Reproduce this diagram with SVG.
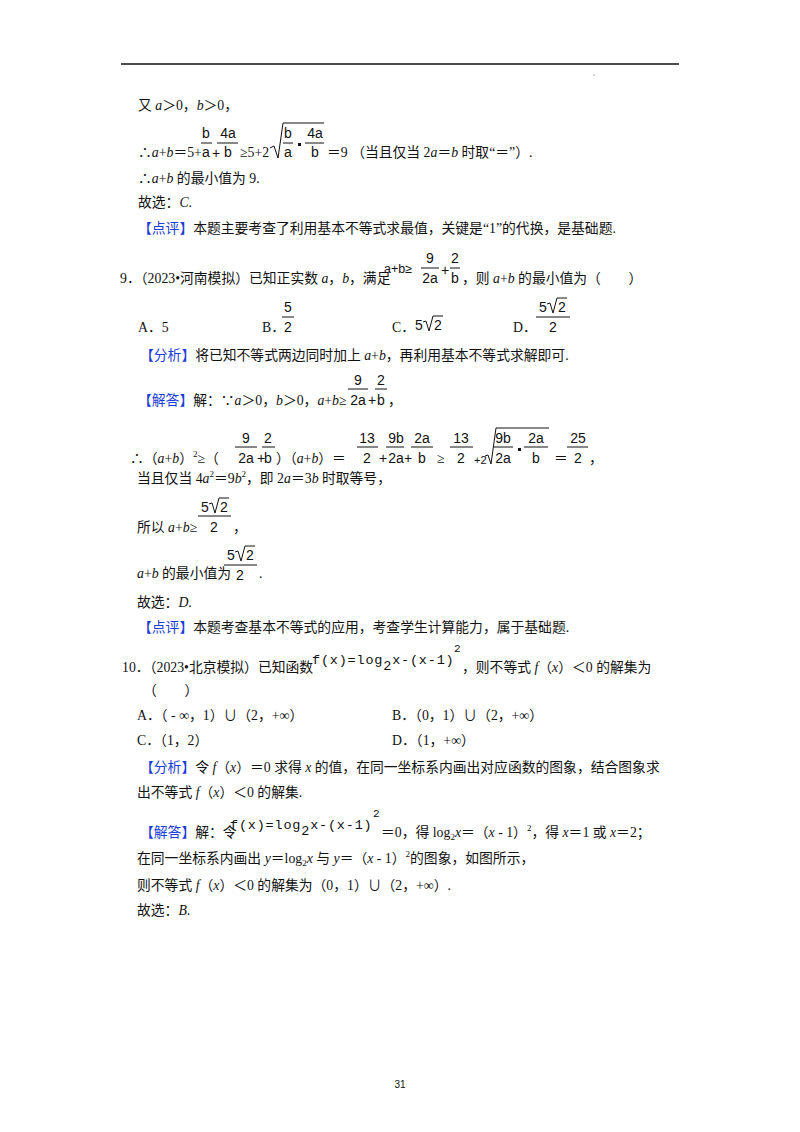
<svg xmlns="http://www.w3.org/2000/svg" width="800" height="1132" viewBox="0 0 800 1132">
<style>
text{font-family:"Liberation Serif","Noto Sans CJK SC",serif;font-size:13.8px;fill:#111}
.i{font-style:italic}
.b{fill:#1a3cd8}
.m{font-family:"Liberation Sans",sans-serif;font-size:14px}
.c{text-anchor:middle}
.f{font-family:"Liberation Mono",monospace;font-size:13.5px;letter-spacing:0.8px}
.sm{font-size:9px}
line,path{stroke:#111;stroke-width:1;fill:none}
</style>
<rect width="800" height="1132" fill="#fff"/>
<line x1="121" y1="64" x2="679" y2="64" style="stroke-width:1.5"/>
<circle cx="594" cy="75" r="0.6" fill="#555"/>

<!-- block 1 -->
<text x="138" y="110">又 <tspan class="i">a</tspan>＞0，<tspan class="i">b</tspan>＞0，</text>
<text x="138" y="157">∴<tspan class="i">a</tspan>+<tspan class="i">b</tspan>＝5+</text>
<text class="m c" x="206" y="138">b</text><line x1="201" y1="143" x2="212" y2="143"/><text class="m c" x="206" y="157">a</text>
<text class="m" x="212" y="158">+</text>
<text class="m c" x="228" y="138">4a</text><line x1="217" y1="143" x2="238" y2="143"/><text class="m c" x="228" y="157">b</text>
<text x="240" y="157">≥5+2</text>
<path d="M270,148 L274,146 L278,158 L283,123 L324,123"/>
<text class="m c" x="288" y="138">b</text><line x1="283" y1="143" x2="293" y2="143"/><text class="m c" x="288" y="157">a</text>
<rect x="298" y="143" width="3" height="3" fill="#111"/>
<text class="m c" x="315" y="138">4a</text><line x1="305" y1="143" x2="324" y2="143"/><text class="m c" x="315" y="157">b</text>
<text x="327" y="157">＝9 （当且仅当 2<tspan class="i">a</tspan>＝<tspan class="i">b</tspan> 时取“＝”）.</text>
<text x="138" y="183">∴<tspan class="i">a</tspan>+<tspan class="i">b</tspan> 的最小值为 9.</text>
<text x="138" y="207">故选：<tspan class="i">C</tspan>.</text>
<text x="138" y="233"><tspan class="b">【点评】</tspan>本题主要考查了利用基本不等式求最值，关键是“1”的代换，是基础题.</text>

<!-- question 9 -->
<text x="120" y="283">9．（2023•河南模拟）已知正实数 <tspan class="i">a</tspan>，<tspan class="i">b</tspan>，满足</text>
<text class="m" x="384" y="273" style="font-size:12.5px">a+b≥</text>
<text class="m c" x="430" y="263">9</text><line x1="421" y1="268" x2="439" y2="268"/><text class="m c" x="430" y="283">2a</text>
<text class="m" x="441" y="275">+</text>
<text class="m c" x="455" y="263">2</text><line x1="450" y1="268" x2="460" y2="268"/><text class="m c" x="455" y="283">b</text>
<text x="462" y="283">，则 <tspan class="i">a</tspan>+<tspan class="i">b</tspan> 的最小值为（　　）</text>
<text x="138" y="332">A．5</text>
<text x="262" y="332">B．</text>
<text class="m c" x="288" y="312">5</text><line x1="282" y1="317" x2="294" y2="317"/><text class="m c" x="288" y="332">2</text>
<text x="392" y="332">C．</text>
<text class="m" x="415" y="330">5</text><path d="M423,322 L426,321 L429,331 L433,316 L443,316"/><text class="m" x="434" y="330">2</text>
<text x="513" y="332">D．</text>
<text class="m" x="539" y="312">5</text><path d="M547,304 L550,303 L553,313 L557,298 L567,298"/><text class="m" x="558" y="312">2</text>
<line x1="536" y1="317" x2="570" y2="317"/><text class="m c" x="553" y="332">2</text>
<text x="140" y="360"><tspan class="b">【分析】</tspan>将已知不等式两边同时加上 <tspan class="i">a</tspan>+<tspan class="i">b</tspan>，再利用基本不等式求解即可.</text>
<text x="138" y="405"><tspan class="b">【解答】</tspan>解：∵<tspan class="i">a</tspan>＞0，<tspan class="i">b</tspan>＞0，<tspan class="i">a</tspan>+<tspan class="i">b</tspan>≥</text>
<text class="m c" x="358" y="385">9</text><line x1="348" y1="389" x2="368" y2="389"/><text class="m c" x="358" y="405">2a</text>
<text class="m" x="368" y="405">+</text>
<text class="m c" x="381" y="385">2</text><line x1="375" y1="389" x2="387" y2="389"/><text class="m c" x="381" y="405">b</text>
<text x="388" y="405">，</text>

<text x="130" y="463">∴（<tspan class="i">a</tspan>+<tspan class="i">b</tspan>）<tspan class="sm" dy="-6">2</tspan><tspan dy="6">≥（</tspan></text>
<text class="m c" x="246" y="443">9</text><line x1="235" y1="447" x2="257" y2="447"/><text class="m c" x="246" y="463">2a</text>
<text class="m" x="257" y="463">+</text>
<text class="m c" x="268" y="443">2</text><line x1="262" y1="447" x2="275" y2="447"/><text class="m c" x="268" y="463">b</text>
<text x="276" y="463">）（<tspan class="i">a</tspan>+<tspan class="i">b</tspan>）＝</text>
<text class="m c" x="367" y="443">13</text><line x1="357" y1="447" x2="378" y2="447"/><text class="m c" x="367" y="463">2</text>
<text class="m" x="379" y="463">+</text>
<text class="m c" x="396" y="443">9b</text><line x1="386" y1="447" x2="404" y2="447"/><text class="m c" x="396" y="463">2a</text>
<text class="m" x="404" y="463">+</text>
<text class="m c" x="422" y="443">2a</text><line x1="411" y1="447" x2="433" y2="447"/><text class="m c" x="422" y="463">b</text>
<text x="437" y="463">≥</text>
<text class="m c" x="461" y="443">13</text><line x1="450" y1="447" x2="473" y2="447"/><text class="m c" x="461" y="463">2</text>
<text class="m" x="474" y="464" style="font-size:11px">+2</text>
<path d="M485,456 L488,455 L491,464 L496,428 L549,428"/>
<text class="m c" x="503" y="443">9b</text><line x1="493" y1="447" x2="513" y2="447"/><text class="m c" x="503" y="463">2a</text>
<rect x="518" y="448" width="3" height="3" fill="#111"/>
<text class="m c" x="536" y="443">2a</text><line x1="524" y1="447" x2="548" y2="447"/><text class="m c" x="536" y="463">b</text>
<text x="554" y="463">＝</text>
<text class="m c" x="578" y="443">25</text><line x1="567" y1="447" x2="588" y2="447"/><text class="m c" x="578" y="463">2</text>
<text x="589" y="463">，</text>

<text x="137" y="483">当且仅当 4<tspan class="i">a</tspan><tspan class="sm" dy="-6">2</tspan><tspan dy="6">＝9</tspan><tspan class="i">b</tspan><tspan class="sm" dy="-6">2</tspan><tspan dy="6">，即 2</tspan><tspan class="i">a</tspan>＝3<tspan class="i">b</tspan> 时取等号，</text>
<text x="137" y="532">所以 <tspan class="i">a</tspan>+<tspan class="i">b</tspan>≥</text>
<text class="m" x="201" y="512">5</text><path d="M209,504 L212,503 L215,513 L219,498 L229,498"/><text class="m" x="220" y="512">2</text>
<line x1="198" y1="516" x2="231" y2="516"/><text class="m c" x="214" y="532">2</text>
<text x="233" y="532">，</text>
<text x="137" y="578"><tspan class="i">a</tspan>+<tspan class="i">b</tspan> 的最小值为</text>
<text class="m" x="227" y="560">5</text><path d="M235,552 L238,551 L241,561 L245,546 L255,546"/><text class="m" x="246" y="560">2</text>
<line x1="224" y1="565" x2="257" y2="565"/><text class="m c" x="240" y="580">2</text>
<text x="259" y="578">.</text>
<text x="137" y="607">故选：<tspan class="i">D</tspan>.</text>
<text x="138" y="632"><tspan class="b">【点评】</tspan>本题考查基本不等式的应用，考查学生计算能力，属于基础题.</text>

<!-- question 10 -->
<text x="122" y="672">10．（2023•北京模拟）已知函数</text>
<text class="f" x="312" y="664">f(x)=log<tspan dy="6">2</tspan><tspan dy="-6">x-(x-1)</tspan></text>
<text class="f" x="454" y="652" style="font-size:11px">2</text>
<text x="462" y="672">，则不等式 <tspan class="i">f</tspan>（<tspan class="i">x</tspan>）＜0 的解集为</text>
<text x="143" y="695">（　　）</text>
<text x="137" y="720">A．（ - ∞，1）∪（2，+∞）</text>
<text x="392" y="720">B．（0，1）∪（2，+∞）</text>
<text x="137" y="745">C．（1，2）</text>
<text x="392" y="745">D．（1，+∞）</text>
<text x="140" y="772"><tspan class="b">【分析】</tspan>令 <tspan class="i">f</tspan>（<tspan class="i">x</tspan>）＝0 求得 <tspan class="i">x</tspan> 的值，在同一坐标系内画出对应函数的图象，结合图象求</text>
<text x="137" y="797">出不等式 <tspan class="i">f</tspan>（<tspan class="i">x</tspan>）＜0 的解集.</text>
<text x="140" y="837"><tspan class="b">【解答】</tspan>解：令</text>
<text class="f" x="230" y="829">f(x)=log<tspan dy="6">2</tspan><tspan dy="-6">x-(x-1)</tspan></text>
<text class="f" x="373" y="817" style="font-size:11px">2</text>
<text x="381" y="837">＝0，得 log<tspan class="sm" dy="3">2</tspan><tspan class="i" dy="-3">x</tspan>＝（<tspan class="i">x</tspan> - 1）<tspan class="sm" dy="-6">2</tspan><tspan dy="6">，得 </tspan><tspan class="i">x</tspan>＝1 或 <tspan class="i">x</tspan>＝2；</text>
<text x="137" y="863">在同一坐标系内画出 <tspan class="i">y</tspan>＝log<tspan class="sm" dy="3">2</tspan><tspan class="i" dy="-3">x</tspan> 与 <tspan class="i">y</tspan>＝（<tspan class="i">x</tspan> - 1）<tspan class="sm" dy="-6">2</tspan><tspan dy="6">的图象，如图所示，</tspan></text>
<text x="137" y="890">则不等式 <tspan class="i">f</tspan>（<tspan class="i">x</tspan>）＜0 的解集为（0，1）∪（2，+∞）.</text>
<text x="137" y="915">故选：<tspan class="i">B</tspan>.</text>

<text x="400" y="1088" class="c" style="font-family:'Liberation Sans',sans-serif;font-size:10px">31</text>
</svg>
